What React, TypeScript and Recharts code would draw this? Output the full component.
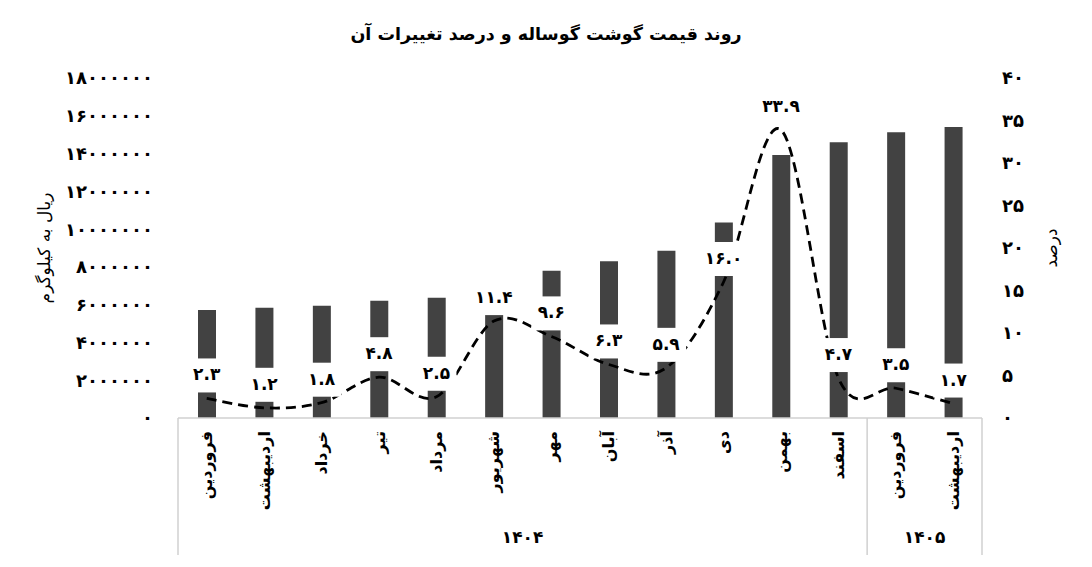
import { ComposedChart, Bar, Line, XAxis, YAxis, LabelList } from 'recharts'

const months = ['فروردین', 'اردیبهشت', 'خرداد', 'تیر', 'مرداد', 'شهریور', 'مهر', 'آبان', 'آذر', 'دی', 'بهمن', 'اسفند', 'فروردین', 'اردیبهشت']
const years = ['1404', '1404', '1404', '1404', '1404', '1404', '1404', '1404', '1404', '1404', '1404', '1404', '1405', '1405']
const prices = [5720000, 5840000, 5940000, 6210000, 6360000, 7090000, 7800000, 8300000, 8850000, 10350000, 13930000, 14600000, 15130000, 15400000]
const changes = [2.3, 1.2, 1.8, 4.8, 2.5, 11.4, 9.6, 6.3, 5.9, 16.0, 33.9, 4.7, 3.5, 1.7]
const priceTicks = [0, 2000000, 4000000, 6000000, 8000000, 10000000, 12000000, 14000000, 16000000, 18000000]
const changeTicks = [0, 5, 10, 15, 20, 25, 30, 35, 40]

const data = months.map((m, i) => ({ month: m, year: years[i], price: prices[i], change: changes[i] }))

const FONT = '"DejaVu Sans", sans-serif'
const W = 1092
const H = 567
const MARGIN = { top: 78, right: 10, bottom: 10, left: 10 }
const LEFT_W = 168
const RIGHT_W = 100
const XAXIS_H = 139
const PLOT_W = W - MARGIN.left - MARGIN.right - LEFT_W - RIGHT_W
const BAND = PLOT_W / months.length
const BOX = '#d0d0d0'

const fa = (s: string | number) => String(s).replace(/[0-9]/g, (d) => '۰۱۲۳۴۵۶۷۸۹'[+d])

// Excel style smoothing (Catmull-Rom through the points)
const smoothCurve = (context: any) => {
  let pts: number[][] = []
  return {
    areaStart() {},
    areaEnd() {},
    lineStart() { pts = [] },
    point(x: number, y: number) { pts.push([+x, +y]) },
    lineEnd() {
      if (!pts.length) return
      context.moveTo(pts[0][0], pts[0][1])
      for (let i = 0; i < pts.length - 1; i++) {
        const p0 = pts[i - 1] || pts[i]
        const p1 = pts[i]
        const p2 = pts[i + 1]
        const p3 = pts[i + 2] || p2
        context.bezierCurveTo(
          p1[0] + (p2[0] - p0[0]) / 6, p1[1] + (p2[1] - p0[1]) / 6,
          p2[0] - (p3[0] - p1[0]) / 6, p2[1] - (p3[1] - p1[1]) / 6,
          p2[0], p2[1],
        )
      }
    },
  }
}

function MonthTick(props: any) {
  const { x, y, payload } = props
  const i = props.index ?? payload.index
  const left = x - BAND / 2
  const first = i === 0 || years[i] !== years[i - 1]
  const last = i === months.length - 1
  const groupLen = years.filter((yr) => yr === years[i]).length
  return (
    <g>
      <text transform={`rotate(-90 ${x} ${y + 13})`} x={x} y={y + 13} textAnchor="end" dominantBaseline="central"
        fontFamily={FONT} fontSize={16} fontWeight="bold" fill="#000">{payload.value}</text>
      {first && <line x1={left} x2={left} y1={y} y2={y + 137} stroke={BOX} strokeWidth={1.5} />}
      {last && <line x1={left + BAND} x2={left + BAND} y1={y} y2={y + 137} stroke={BOX} strokeWidth={1.5} />}
      {first && (
        <text x={left + (groupLen * BAND) / 2} y={y + 119} textAnchor="middle" dominantBaseline="central"
          fontFamily={FONT} fontSize={17} fontWeight="bold" fill="#000">{fa(years[i])}</text>
      )}
    </g>
  )
}

function ChangeLabel(props: any) {
  const { x, y, value } = props
  return (
    <g>
      <rect x={x - 20} y={y - 40} width={40} height={34} fill="#fff" />
      <text x={x} y={y - 24} textAnchor="middle" dominantBaseline="central"
        fontFamily={FONT} fontSize={17} fontWeight="bold" fill="#000">{fa(Number(value).toFixed(1))}</text>
    </g>
  )
}

const axisTitle = (text: string, dx: number) => (props: any) => {
  const vb = props.viewBox
  const cx = vb.x + dx
  const cy = vb.y + vb.height / 2
  return (
    <text transform={`rotate(-90 ${cx} ${cy})`} x={cx} y={cy} textAnchor="middle" dominantBaseline="central"
      fontFamily={FONT} fontSize={17} fill="#000">{text}</text>
  )
}

const tickStyle = { fill: '#000', fontSize: 18, fontWeight: 'bold', fontFamily: FONT }

export default function App() {
  return (
    <div style={{ position: 'absolute', left: 0, top: 0, width: W, height: H, background: '#fff' }}>
      <div style={{
        position: 'absolute', top: 24, left: 0, width: W, textAlign: 'center', direction: 'rtl',
        fontFamily: FONT, fontSize: 17.5, fontWeight: 'bold', color: '#000',
      }}>
        روند قیمت گوشت گوساله و درصد تغییرات آن
      </div>
      <ComposedChart width={W} height={H} data={data} margin={MARGIN}>
        <XAxis dataKey="month" interval={0} tick={<MonthTick />} tickLine={false} tickSize={0} tickMargin={0}
          height={XAXIS_H} axisLine={{ stroke: BOX, strokeWidth: 1.5 }} />
        <YAxis yAxisId="price" orientation="left" width={LEFT_W} domain={[0, 18000000]} ticks={priceTicks}
          tickFormatter={(v) => fa(v)} tick={tickStyle} tickLine={false} tickSize={0} tickMargin={25}
          axisLine={false} label={{ content: axisTitle('ریال به کیلوگرم', 34) }} />
        <YAxis yAxisId="change" orientation="right" width={RIGHT_W} domain={[0, 40]} ticks={changeTicks}
          tickFormatter={(v) => fa(v)} tick={tickStyle} tickLine={false} tickSize={0} tickMargin={20}
          axisLine={false} label={{ content: axisTitle('درصد', 69) }} />
        <Bar yAxisId="price" dataKey="price" fill="#424242" barSize={18} isAnimationActive={false} />
        <Line yAxisId="change" dataKey="change" type={smoothCurve as any} stroke="#000" strokeWidth={2.8}
          strokeDasharray="10 6" dot={false} activeDot={false} isAnimationActive={false}>
          <LabelList dataKey="change" content={<ChangeLabel />} />
        </Line>
      </ComposedChart>
    </div>
  )
}
